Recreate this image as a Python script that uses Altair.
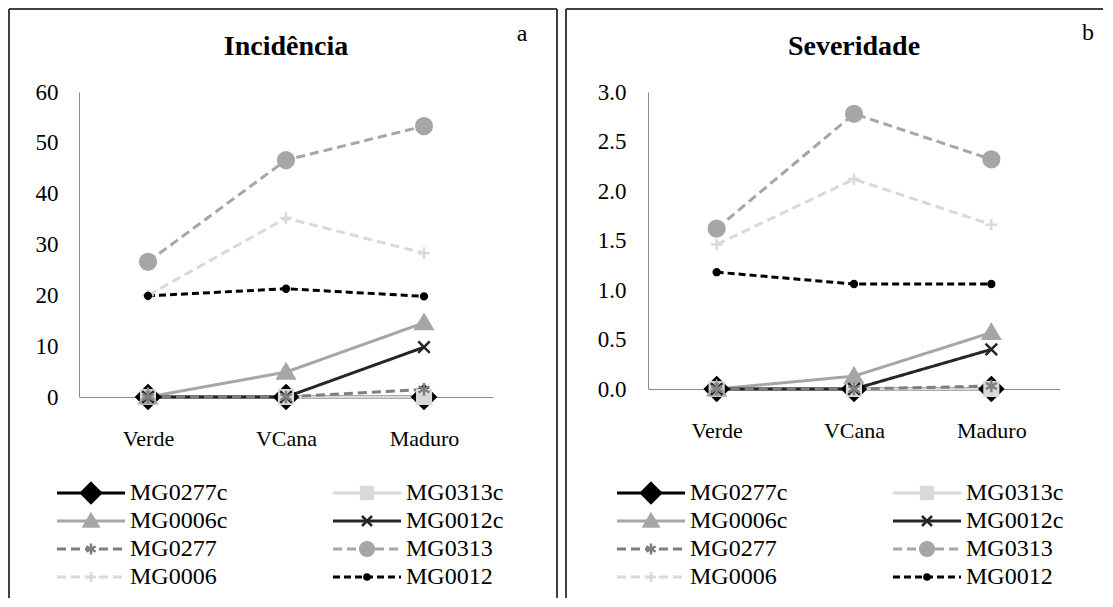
import altair as alt
import pandas as pd

stages = ["Verde", "VCana", "Maduro"]
series = ["MG0277c", "MG0313c", "MG0006c", "MG0012c", "MG0277", "MG0313", "MG0006", "MG0012"]

# Incidência values (per series, over stages)
inc_MG0277c = [0, 0, 0]
inc_MG0313c = [0, 0, 0]
inc_MG0006c = [0, 4.9, 14.6]
inc_MG0012c = [0, 0, 9.8]
inc_MG0277 = [0, 0, 1.5]
inc_MG0313 = [26.6, 46.6, 53.3]
inc_MG0006 = [20.0, 35.2, 28.3]
inc_MG0012 = [19.9, 21.3, 19.8]

# Severidade values
sev_MG0277c = [0, 0, 0]
sev_MG0313c = [0, 0, 0]
sev_MG0006c = [0, 0.13, 0.57]
sev_MG0012c = [0, 0, 0.40]
sev_MG0277 = [0, 0, 0.03]
sev_MG0313 = [1.62, 2.78, 2.32]
sev_MG0006 = [1.46, 2.12, 1.66]
sev_MG0012 = [1.18, 1.06, 1.06]

inc_ticks = [0, 10, 20, 30, 40, 50, 60]
sev_ticks = [0, 0.5, 1.0, 1.5, 2.0, 2.5, 3.0]

# styles
colors = ["#000000", "#d9d9d9", "#a6a6a6", "#262626", "#7f7f7f", "#a6a6a6", "#d9d9d9", "#000000"]
dashes = [[1, 0], [1, 0], [1, 0], [1, 0], [9, 5], [9, 5], [9, 5], [7, 4]]
# marker outlines in a unit space (scaled by the constant symbol size)
DIAMOND = "M0,-1.1L1.1,0L0,1.1L-1.1,0Z"
SQUARE = "M-0.65,-0.65H0.65V0.65H-0.65Z"
TRIANGLE = "M0,-0.75L0.8,0.6L-0.8,0.6Z"
X_PATH = "M-0.55,-0.55L0.55,0.55M-0.55,0.55L0.55,-0.55"
AST_PATH = "M0,-0.6L0,0.6M-0.52,-0.3L0.52,0.3M-0.52,0.3L0.52,-0.3"
CIRCLE = "M0.75,0A0.75,0.75,0,1,1,-0.75,0A0.75,0.75,0,1,1,0.75,0Z"
PLUS_PATH = "M-0.55,0L0.55,0M0,-0.55L0,0.55"
DOT = "M0.28,0A0.28,0.28,0,1,1,-0.28,0A0.28,0.28,0,1,1,0.28,0Z"
shapes = [DIAMOND, SQUARE, TRIANGLE, X_PATH, AST_PATH, CIRCLE, PLUS_PATH, DOT]

FONT = "Liberation Serif"


def make_df(vals_list):
    rows = []
    for s, vals in zip(series, vals_list):
        for st, v in zip(stages, vals):
            rows.append({"series": s, "stage": st, "value": v})
    return pd.DataFrame(rows)


leg_df = pd.DataFrame({
    "series": series,
    "lcol": [i % 2 for i in range(len(series))],
    "lrow": [i // 2 for i in range(len(series))],
})

color_scale = alt.Scale(domain=series, range=colors)
dash_enc = alt.StrokeDash("series:N", scale=alt.Scale(domain=series, range=dashes), legend=None)
shape_enc = alt.Shape("series:N", scale=alt.Scale(domain=series, range=shapes), legend=None)
fill_enc = alt.Fill("series:N", scale=color_scale, legend=None)
stroke_enc = alt.Stroke("series:N", scale=color_scale, legend=None)
color_enc = alt.Color("series:N", scale=color_scale, legend=None)


def panel(df, ymax, yvals, fmt, title, letter, W, H, g):
    x = alt.X("stage:N", sort=stages,
              scale=alt.Scale(type="point", domain=stages, padding=0.5),
              axis=alt.Axis(title=None, labelAngle=0, ticks=False, grid=False,
                            domainColor="#8c8c8c", domainWidth=1,
                            labelFont=FONT, labelFontSize=22, labelColor="#000",
                            labelPadding=31))
    y = alt.Y("value:Q", scale=alt.Scale(domain=[0, ymax], nice=False, zero=True),
              axis=alt.Axis(title=None, values=yvals, format=fmt, ticks=False, grid=False,
                            domainColor="#8c8c8c", domainWidth=1,
                            labelFont=FONT, labelFontSize=23, labelColor="#000",
                            labelPadding=g["ylabpad"]))
    lines = alt.Chart(df).mark_line(strokeWidth=3).encode(
        x=x, y=y, color=color_enc, strokeDash=dash_enc, detail="series:N")
    points = alt.Chart(df).mark_point(filled=True, opacity=1, strokeWidth=2.5, size=440).encode(
        x=x, y=y, shape=shape_enc, fill=fill_enc, stroke=stroke_enc)
    plot = alt.layer(lines, points).properties(width=W, height=H)

    lx = alt.X("lcol:Q", scale=alt.Scale(domain=[0, 1], range=g["cols"], nice=False, zero=False), axis=None)
    ly = alt.Y("lrow:Q", scale=alt.Scale(domain=[0, 3], range=g["rows"], nice=False, zero=False), axis=None)
    leg_rule = alt.Chart(leg_df).mark_rule(strokeWidth=3, x2Offset=68).encode(
        x=lx, x2=alt.X2("lcol:Q"), y=ly, color=color_enc, strokeDash=dash_enc)
    leg_pt = alt.Chart(leg_df).mark_point(filled=True, opacity=1, strokeWidth=2.5, size=330,
                                          xOffset=34).encode(
        x=lx, y=ly, shape=shape_enc, fill=fill_enc, stroke=stroke_enc)
    leg_tx = alt.Chart(leg_df).mark_text(align="left", baseline="middle", dx=73,
                                          font=FONT, fontSize=24, color="#000").encode(
        x=lx, y=ly, text="series:N")
    legend = alt.layer(leg_rule, leg_pt, leg_tx)

    fdf = pd.DataFrame({"title": [title], "letter": [letter]})
    bc = "#404040"
    fr = [
        alt.Chart(fdf).mark_rule(color=bc, strokeWidth=2).encode(
            x=alt.value(g["L"]), y=alt.value(g["T"]), y2=alt.value(g["B"])),
        alt.Chart(fdf).mark_rule(color=bc, strokeWidth=2).encode(
            x=alt.value(g["L"]), x2=alt.value(g["R"]), y=alt.value(g["T"])),
    ]
    if g.get("right", True):
        fr.append(alt.Chart(fdf).mark_rule(color=bc, strokeWidth=2).encode(
            x=alt.value(g["R"]), y=alt.value(g["T"]), y2=alt.value(g["B"])))
    fr.append(alt.Chart(fdf).mark_text(font=FONT, fontSize=28, fontWeight="bold", color="#000",
                                       align="center", baseline="alphabetic").encode(
        x=alt.value(W / 2), y=alt.value(g["ty"]), text="title:N"))
    fr.append(alt.Chart(fdf).mark_text(font=FONT, fontSize=24, color="#000",
                                       align="center", baseline="alphabetic").encode(
        x=alt.value(g["lx"]), y=alt.value(g["ly"]), text="letter:N"))
    frame = alt.layer(*fr)

    return alt.layer(plot, legend, frame).resolve_scale(x="independent", y="independent")


df_inc = make_df([inc_MG0277c, inc_MG0313c, inc_MG0006c, inc_MG0012c,
                  inc_MG0277, inc_MG0313, inc_MG0006, inc_MG0012])
df_sev = make_df([sev_MG0277c, sev_MG0313c, sev_MG0006c, sev_MG0012c,
                  sev_MG0277, sev_MG0313, sev_MG0006, sev_MG0012])

g_left = dict(L=-70, T=-83, R=478, B=506, cols=[-22, 254], rows=[401, 485],
              ty=-37, lx=443, ly=-51, ylabpad=21)
g_right = dict(L=-82, T=-83, R=455, B=506, cols=[-31, 245], rows=[401, 485],
               ty=-37, lx=440, ly=-52, ylabpad=22, right=False)

p1 = panel(df_inc, 60, inc_ticks, "d", "Incidência", "a", 414, 305, g_left)
p2 = panel(df_sev, 3, sev_ticks, ".1f", "Severidade", "b", 412, 297, g_right)

chart = alt.hconcat(p1, p2, spacing=7).properties(padding=0).configure_view(stroke=None)

chart.save("out.html", embed_options={"renderer": "svg", "actions": False})
